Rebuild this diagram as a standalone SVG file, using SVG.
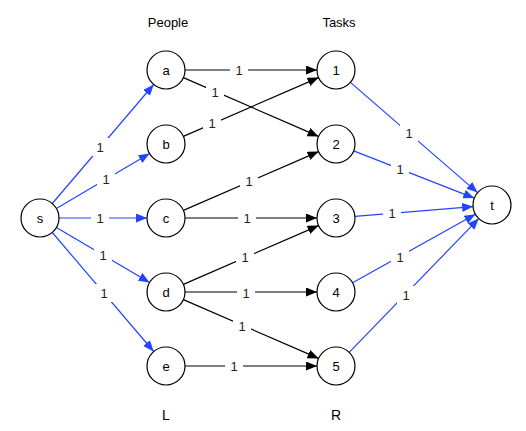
<svg xmlns="http://www.w3.org/2000/svg" width="526" height="431" viewBox="0 0 526 431">
<style>
.node circle{fill:#fff;stroke:#000;stroke-width:1.2}
text{font-family:"Liberation Sans",Arial,sans-serif;fill:#000}
.node text{font-size:13px;text-anchor:middle;dominant-baseline:central}
.hdr{font-size:13px;text-anchor:middle}
.e{stroke:#000;stroke-width:1.2;fill:none;marker-end:url(#ab)}
.b{stroke:#2244ff;stroke-width:1.2;fill:none;marker-end:url(#au)}
.lb rect{fill:#fff}
.lb text{font-size:13px;text-anchor:middle;dominant-baseline:central;fill:#222}
</style>
<defs>
<marker id="ab" markerUnits="userSpaceOnUse" markerWidth="12" markerHeight="10" refX="11" refY="4.5" orient="auto"><path d="M0,0 L11,4.5 L0,9 z" fill="#000"/></marker>
<marker id="au" markerUnits="userSpaceOnUse" markerWidth="12" markerHeight="10" refX="11" refY="4.5" orient="auto"><path d="M0,0 L11,4.5 L0,9 z" fill="#2244ff"/></marker>
</defs>
<rect width="526" height="431" fill="#fff"/>
<text class="hdr" x="168" y="27">People</text>
<text class="hdr" x="339" y="27">Tasks</text>
<text class="hdr" x="166" y="420" style="font-size:14px">L</text>
<text class="hdr" x="336" y="420" style="font-size:14px">R</text>
<g id="connectors">
<line class="b" x1="52.3" y1="203.5" x2="153.7" y2="84.5"/>
<line class="b" x1="56.4" y1="208.4" x2="149.6" y2="153.6"/>
<line class="b" x1="59" y1="218" x2="147" y2="218"/>
<line class="b" x1="56.4" y1="227.6" x2="149.6" y2="282.4"/>
<line class="b" x1="52.3" y1="232.5" x2="153.7" y2="351.5"/>
<line class="e" x1="185" y1="70" x2="317" y2="70"/>
<line class="e" x1="183.4" y1="77.6" x2="318.6" y2="136.4"/>
<line class="e" x1="183.4" y1="136.4" x2="318.6" y2="77.6"/>
<line class="e" x1="183.4" y1="210.4" x2="318.6" y2="151.6"/>
<line class="e" x1="185" y1="218" x2="317" y2="218"/>
<line class="e" x1="183.4" y1="284.4" x2="318.6" y2="225.6"/>
<line class="e" x1="185" y1="292" x2="317" y2="292"/>
<line class="e" x1="183.4" y1="299.6" x2="318.6" y2="358.4"/>
<line class="e" x1="185" y1="366" x2="317" y2="366"/>
<line class="b" x1="350.4" y1="82.4" x2="477.6" y2="192.6"/>
<line class="b" x1="353.7" y1="150.9" x2="474.3" y2="198.1"/>
<line class="b" x1="354.9" y1="216.4" x2="473.1" y2="206.6"/>
<line class="b" x1="352.6" y1="282.7" x2="475.4" y2="214.3"/>
<line class="b" x1="349.2" y1="352.4" x2="478.8" y2="218.6"/>
<g class="lb">
<rect x="91" y="138" width="18" height="18"/><text x="100" y="147">1</text>
<rect x="97" y="170" width="18" height="18"/><text x="106" y="179">1</text>
<rect x="91" y="209" width="18" height="18"/><text x="100" y="218">1</text>
<rect x="94" y="246" width="18" height="18"/><text x="103" y="255">1</text>
<rect x="95" y="284" width="18" height="18"/><text x="104" y="293">1</text>
<rect x="230" y="61" width="18" height="18"/><text x="239" y="70">1</text>
<rect x="206" y="83" width="18" height="18"/><text x="215" y="92">1</text>
<rect x="203" y="114" width="18" height="18"/><text x="212" y="123">1</text>
<rect x="240" y="172" width="18" height="18"/><text x="249" y="181">1</text>
<rect x="238" y="209" width="18" height="18"/><text x="247" y="218">1</text>
<rect x="236" y="248" width="18" height="18"/><text x="245" y="257">1</text>
<rect x="237" y="284" width="18" height="18"/><text x="246" y="293">1</text>
<rect x="233" y="317" width="18" height="18"/><text x="242" y="326">1</text>
<rect x="225" y="357" width="18" height="18"/><text x="234" y="366">1</text>
<rect x="400" y="124" width="18" height="18"/><text x="409" y="133">1</text>
<rect x="391" y="160" width="18" height="18"/><text x="400" y="169">1</text>
<rect x="383" y="204" width="18" height="18"/><text x="392" y="213">1</text>
<rect x="391" y="248" width="18" height="18"/><text x="400" y="257">1</text>
<rect x="397" y="286" width="18" height="18"/><text x="406" y="295">1</text>
</g>
</g>
<g id="node-s" class="node"><circle cx="40" cy="218" r="19"/><text x="40" y="218">s</text></g>
<g id="node-a" class="node"><circle cx="166" cy="70" r="19"/><text x="166" y="70">a</text></g>
<g id="node-b" class="node"><circle cx="166" cy="144" r="19"/><text x="166" y="144">b</text></g>
<g id="node-c" class="node"><circle cx="166" cy="218" r="19"/><text x="166" y="218">c</text></g>
<g id="node-d" class="node"><circle cx="166" cy="292" r="19"/><text x="166" y="292">d</text></g>
<g id="node-e" class="node"><circle cx="166" cy="366" r="19"/><text x="166" y="366">e</text></g>
<g id="node-1" class="node"><circle cx="336" cy="70" r="19"/><text x="336" y="70">1</text></g>
<g id="node-2" class="node"><circle cx="336" cy="144" r="19"/><text x="336" y="144">2</text></g>
<g id="node-3" class="node"><circle cx="336" cy="218" r="19"/><text x="336" y="218">3</text></g>
<g id="node-4" class="node"><circle cx="336" cy="292" r="19"/><text x="336" y="292">4</text></g>
<g id="node-5" class="node"><circle cx="336" cy="366" r="19"/><text x="336" y="366">5</text></g>
<g id="node-t" class="node"><circle cx="492" cy="205" r="19"/><text x="492" y="205">t</text></g>
</svg>
